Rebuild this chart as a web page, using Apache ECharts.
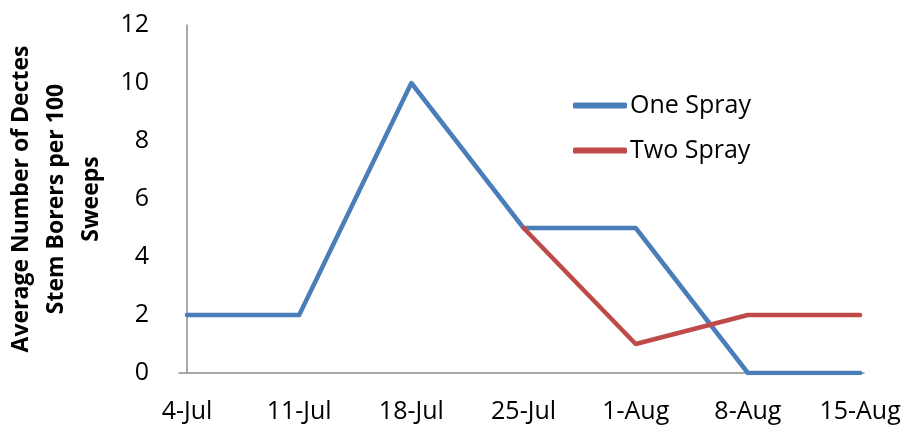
<!DOCTYPE html>
<html><head><meta charset="utf-8">
<script src="https://cdn.jsdelivr.net/npm/echarts@6/dist/echarts.min.js"></script>
<style>html,body{margin:0;padding:0;background:#fff}#c{width:905px;height:431px}</style>
</head><body><div id="c"></div>
<script>
const categories = ['4-Jul','11-Jul','18-Jul','25-Jul','1-Aug','8-Aug','15-Aug'];
const oneSpray = [2, 2, 10, 5, 5, 0, 0];
const twoSpray = [null, null, null, 5, 1, 2, 2];
const yTicks = [0, 2, 4, 6, 8, 10, 12];

const toPairs = arr => arr.map((v, i) => v == null ? null : [i, v]).filter(p => p);
const font = "'Open Sans', 'Liberation Sans', sans-serif";
const chart = echarts.init(document.getElementById('c'));
chart.setOption({
  animation: false,
  grid: { left: 179, right: 41, top: 25, bottom: 58, containLabel: false, outerBoundsMode: 'none' },
  legend: {
    orient: 'vertical', left: 568, top: 88, itemWidth: 54, itemHeight: 6, itemGap: 20,
    icon: 'roundRect',
    textStyle: { fontFamily: font, fontSize: 25, color: '#000', padding: [0,0,0,-2] },
    data: ['One Spray', 'Two Spray']
  },
  xAxis: {
    type: 'value', min: -0.0713, max: 6.035,
    splitLine: { show: false },
    axisLine: { lineStyle: { color: '#8c8c8c', width: 1.5 } },
    axisTick: { show: false },
    axisLabel: {
      customValues: categories.map((c, i) => i),
      formatter: v => categories[Math.round(v)],
      margin: 26, fontFamily: font, fontSize: 25, color: '#000'
    }
  },
  yAxis: {
    type: 'value', min: 0, max: 12, interval: 2,
    name: 'Average Number of Dectes\nStem Borers per 100\nSweeps',
    nameLocation: 'middle', nameGap: 70, nameRotate: 90,
    nameTextStyle: { fontFamily: font, fontSize: 23, fontWeight: 'bold', color: '#000', lineHeight: 35 },
    splitLine: { show: false },
    axisLine: { show: true, lineStyle: { color: '#8c8c8c', width: 1.5 } },
    axisTick: { show: false },
    axisLabel: { margin: 30, fontFamily: font, fontSize: 25, color: '#000',
      formatter: v => yTicks.includes(v) ? String(v) : '' }
  },
  series: [
    { name: 'One Spray', type: 'line', data: toPairs(oneSpray), symbol: 'none',
      lineStyle: { color: '#4a7ebb', width: 4.5, cap: 'round', join: 'round' }, itemStyle: { color: '#4a7ebb' } },
    { name: 'Two Spray', type: 'line', data: toPairs(twoSpray), symbol: 'none',
      lineStyle: { color: '#be4b48', width: 4.5, cap: 'round', join: 'round' }, itemStyle: { color: '#be4b48' } }
  ]
});
</script></body></html>
